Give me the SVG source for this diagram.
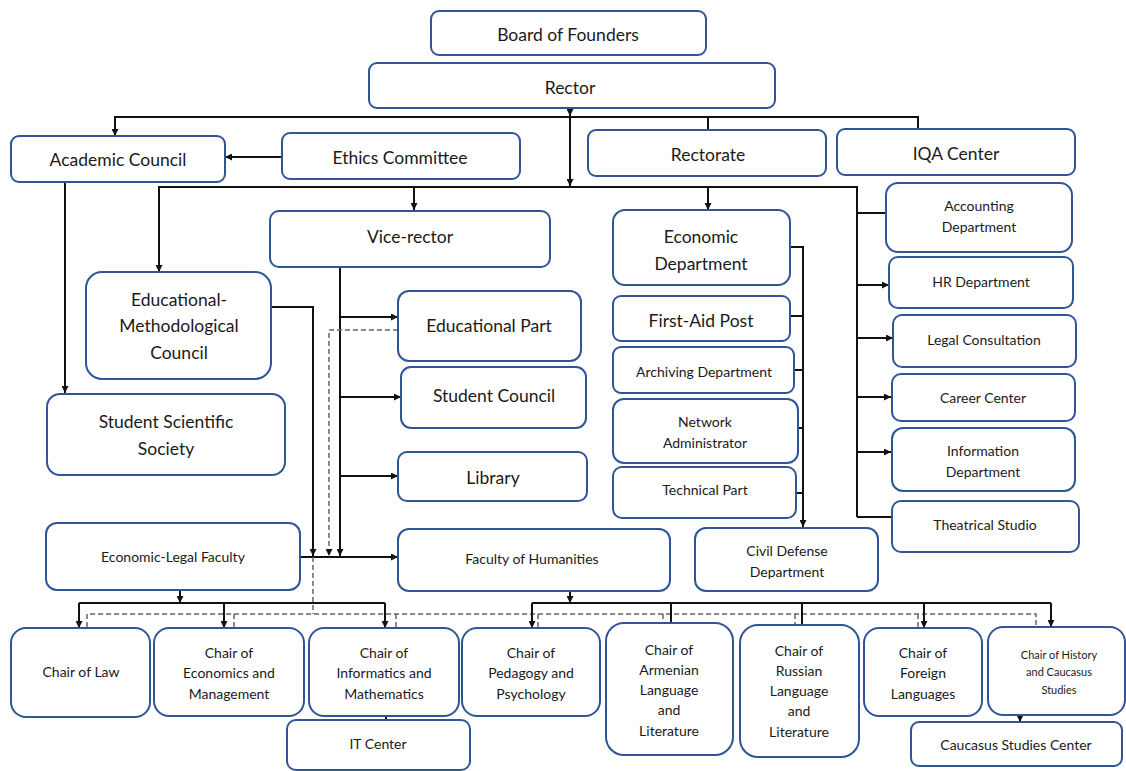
<svg xmlns="http://www.w3.org/2000/svg" width="1126" height="771" viewBox="0 0 1126 771">
<style>
.n rect{fill:#fff;stroke:#2F5597;stroke-width:2}
text{font-family:Lato,"Liberation Sans",sans-serif;fill:#1a1a1a;text-anchor:middle;dominant-baseline:central}
.L{font-size:17.5px}
.M{font-size:14px}
.S{font-size:11px}
.c path{fill:none;stroke:#111;stroke-width:2}
.c path.a{marker-end:url(#ar)}
.c path.d{stroke:#666;stroke-width:1.5;stroke-dasharray:5 3}
.c path.da{stroke:#666;stroke-width:1.5;stroke-dasharray:5 3;marker-end:url(#ar)}
</style>
<defs>
<marker id="ar" viewBox="0 0 10 10" refX="10" refY="5" markerWidth="7" markerHeight="7" markerUnits="userSpaceOnUse" orient="auto">
<path d="M0,0 L10,5 L0,10 z" fill="#111"/>
</marker>
</defs>
<rect width="1126" height="771" fill="#fff"/>
<g class="c" id="connectors">
<path d="M918,129 V117 H115 V136" class="a"/>
<path d="M708,117 V131"/>
<path d="M570,108 V116" class="a"/>
<path d="M570,116 V186" class="a"/>
<path d="M282,157 H225" class="a"/>
<path d="M857,517 V187 H159 V272" class="a"/>
<path d="M414,187 V210" class="a"/>
<path d="M708,187 V210" class="a"/>
<path d="M857,213 H886"/>
<path d="M857,285 H889" class="a"/>
<path d="M857,338 H893" class="a"/>
<path d="M857,397 H891" class="a"/>
<path d="M857,452 H891" class="a"/>
<path d="M857,517 H891"/>
<path d="M65,182 V393" class="a"/>
<path d="M790,247 H803 V527" class="a"/>
<path d="M790,316 H803"/>
<path d="M794,370 H803"/>
<path d="M798,428 H803"/>
<path d="M796,493 H803"/>
<path d="M271,307 H313 V556" class="a"/>
<path d="M340,267 V556" class="a"/>
<path d="M340,317 H398" class="a"/>
<path d="M340,397 H401" class="a"/>
<path d="M340,476 H398" class="a"/>
<path d="M398,330 H329 V556" class="da"/>
<path d="M300,557 H398" class="a"/>
<path d="M313,557 V614" class="d"/>
<path d="M87,627 V614 H1036 V627" class="d"/>
<path d="M234,614 V627" class="d"/>
<path d="M396,614 V627" class="d"/>
<path d="M538,614 V627" class="d"/>
<path d="M663,614 V623" class="d"/>
<path d="M795,614 V625" class="d"/>
<path d="M918,614 V627" class="d"/>
<path d="M180,590 V603" class="a"/>
<path d="M79,603 H385"/>
<path d="M79,603 V628" class="a"/>
<path d="M224,603 V628" class="a"/>
<path d="M385,603 V628" class="a"/>
<path d="M570,591 V603" class="a"/>
<path d="M532,603 H1051"/>
<path d="M532,603 V628" class="a"/>
<path d="M671,603 V623"/>
<path d="M802,603 V625"/>
<path d="M924,603 V628" class="a"/>
<path d="M1051,603 V627" class="a"/>
<path d="M386,716 V720"/>
<path d="M1020,715 V722" class="a"/>
</g>
<g class="n" id="board"><rect x="431" y="11" width="275" height="44" rx="8"/><text class="L" x="568" y="34">Board of Founders</text></g>
<g class="n" id="rector"><rect x="369" y="63" width="406" height="45" rx="8"/><text class="L" x="570" y="87">Rector</text></g>
<g class="n" id="academic-council"><rect x="11" y="136" width="214" height="46" rx="8"/><text class="L" x="118" y="159">Academic Council</text></g>
<g class="n" id="ethics"><rect x="282" y="133" width="238" height="46" rx="8"/><text class="L" x="400" y="157">Ethics Committee</text></g>
<g class="n" id="rectorate"><rect x="588" y="130" width="238" height="46" rx="8"/><text class="L" x="708" y="154">Rectorate</text></g>
<g class="n" id="iqa"><rect x="837" y="129" width="238" height="46" rx="8"/><text class="L" x="956" y="153">IQA Center</text></g>
<g class="n" id="accounting"><rect x="886" y="183" width="186" height="69" rx="12"/><text class="M" x="979" y="205">Accounting</text><text class="M" x="979" y="226">Department</text></g>
<g class="n" id="hr"><rect x="889" y="257" width="184" height="51" rx="9"/><text class="M" x="981" y="281">HR Department</text></g>
<g class="n" id="legal"><rect x="893" y="315" width="183" height="52" rx="9"/><text class="M" x="984" y="339">Legal Consultation</text></g>
<g class="n" id="career"><rect x="892" y="374" width="183" height="47" rx="9"/><text class="M" x="983" y="397">Career Center</text></g>
<g class="n" id="information"><rect x="892" y="428" width="183" height="63" rx="11"/><text class="M" x="983" y="450">Information</text><text class="M" x="983" y="471">Department</text></g>
<g class="n" id="theatrical"><rect x="892" y="501" width="187" height="51" rx="9"/><text class="M" x="985" y="524">Theatrical Studio</text></g>
<g class="n" id="vice-rector"><rect x="270" y="211" width="280" height="56" rx="9"/><text class="L" x="410" y="236">Vice-rector</text></g>
<g class="n" id="economic"><rect x="613" y="210" width="177" height="75" rx="12"/><text class="L" x="701" y="236">Economic</text><text class="L" x="701" y="263">Department</text></g>
<g class="n" id="first-aid"><rect x="613" y="296" width="177" height="45" rx="8"/><text class="L" x="701" y="320">First-Aid Post</text></g>
<g class="n" id="archiving"><rect x="613" y="347" width="181" height="46" rx="8"/><text class="M" x="704" y="371">Archiving Department</text></g>
<g class="n" id="network"><rect x="613" y="399" width="185" height="64" rx="11"/><text class="M" x="705" y="421">Network</text><text class="M" x="705" y="442">Administrator</text></g>
<g class="n" id="technical"><rect x="613" y="467" width="183" height="51" rx="9"/><text class="M" x="705" y="489">Technical Part</text></g>
<g class="n" id="civil-defense"><rect x="695" y="528" width="183" height="63" rx="11"/><text class="M" x="787" y="550">Civil Defense</text><text class="M" x="787" y="571">Department</text></g>
<g class="n" id="emc"><rect x="86" y="272" width="185" height="107" rx="16"/><text class="L" x="179" y="299">Educational-</text><text class="L" x="179" y="325">Methodological</text><text class="L" x="179" y="352">Council</text></g>
<g class="n" id="sss"><rect x="47" y="394" width="238" height="81" rx="13"/><text class="L" x="166" y="421">Student Scientific</text><text class="L" x="166" y="448">Society</text></g>
<g class="n" id="educational-part"><rect x="398" y="291" width="183" height="70" rx="11"/><text class="L" x="489" y="325">Educational Part</text></g>
<g class="n" id="student-council"><rect x="401" y="367" width="185" height="61" rx="10"/><text class="L" x="494" y="395">Student Council</text></g>
<g class="n" id="library"><rect x="398" y="452" width="189" height="49" rx="9"/><text class="L" x="493" y="477">Library</text></g>
<g class="n" id="econ-legal"><rect x="46" y="523" width="254" height="67" rx="11"/><text class="M" x="173" y="556">Economic-Legal Faculty</text></g>
<g class="n" id="humanities"><rect x="398" y="529" width="272" height="62" rx="11"/><text class="M" x="532" y="558">Faculty of Humanities</text></g>
<g class="n" id="chair-law"><rect x="11" y="628" width="139" height="89" rx="15"/><text class="M" x="81" y="671">Chair of Law</text></g>
<g class="n" id="chair-econ"><rect x="154" y="628" width="150" height="88" rx="15"/><text class="M" x="229" y="652">Chair of</text><text class="M" x="229" y="672">Economics and</text><text class="M" x="229" y="693">Management</text></g>
<g class="n" id="chair-informatics"><rect x="309" y="628" width="150" height="88" rx="15"/><text class="M" x="384" y="652">Chair of</text><text class="M" x="384" y="672">Informatics and</text><text class="M" x="384" y="693">Mathematics</text></g>
<g class="n" id="chair-pedagogy"><rect x="462" y="628" width="138" height="88" rx="15"/><text class="M" x="531" y="652">Chair of</text><text class="M" x="531" y="672">Pedagogy and</text><text class="M" x="531" y="693">Psychology</text></g>
<g class="n" id="chair-armenian"><rect x="606" y="623" width="127" height="132" rx="18"/><text class="M" x="669" y="649">Chair of</text><text class="M" x="669" y="669">Armenian</text><text class="M" x="669" y="689">Language</text><text class="M" x="669" y="709">and</text><text class="M" x="669" y="730">Literature</text></g>
<g class="n" id="chair-russian"><rect x="740" y="625" width="119" height="132" rx="18"/><text class="M" x="799" y="650">Chair of</text><text class="M" x="799" y="670">Russian</text><text class="M" x="799" y="690">Language</text><text class="M" x="799" y="710">and</text><text class="M" x="799" y="731">Literature</text></g>
<g class="n" id="chair-foreign"><rect x="864" y="628" width="118" height="88" rx="15"/><text class="M" x="923" y="652">Chair of</text><text class="M" x="923" y="672">Foreign</text><text class="M" x="923" y="693">Languages</text></g>
<g class="n" id="chair-history"><rect x="988" y="627" width="137" height="88" rx="15"/><text class="S" x="1059" y="654">Chair of History</text><text class="S" x="1059" y="671">and Caucasus</text><text class="S" x="1059" y="689">Studies</text></g>
<g class="n" id="it-center"><rect x="287" y="720" width="183" height="50" rx="9"/><text class="M" x="378" y="743">IT Center</text></g>
<g class="n" id="caucasus-center"><rect x="911" y="722" width="211" height="44" rx="8"/><text class="M" x="1016" y="744">Caucasus Studies Center</text></g>
</svg>
